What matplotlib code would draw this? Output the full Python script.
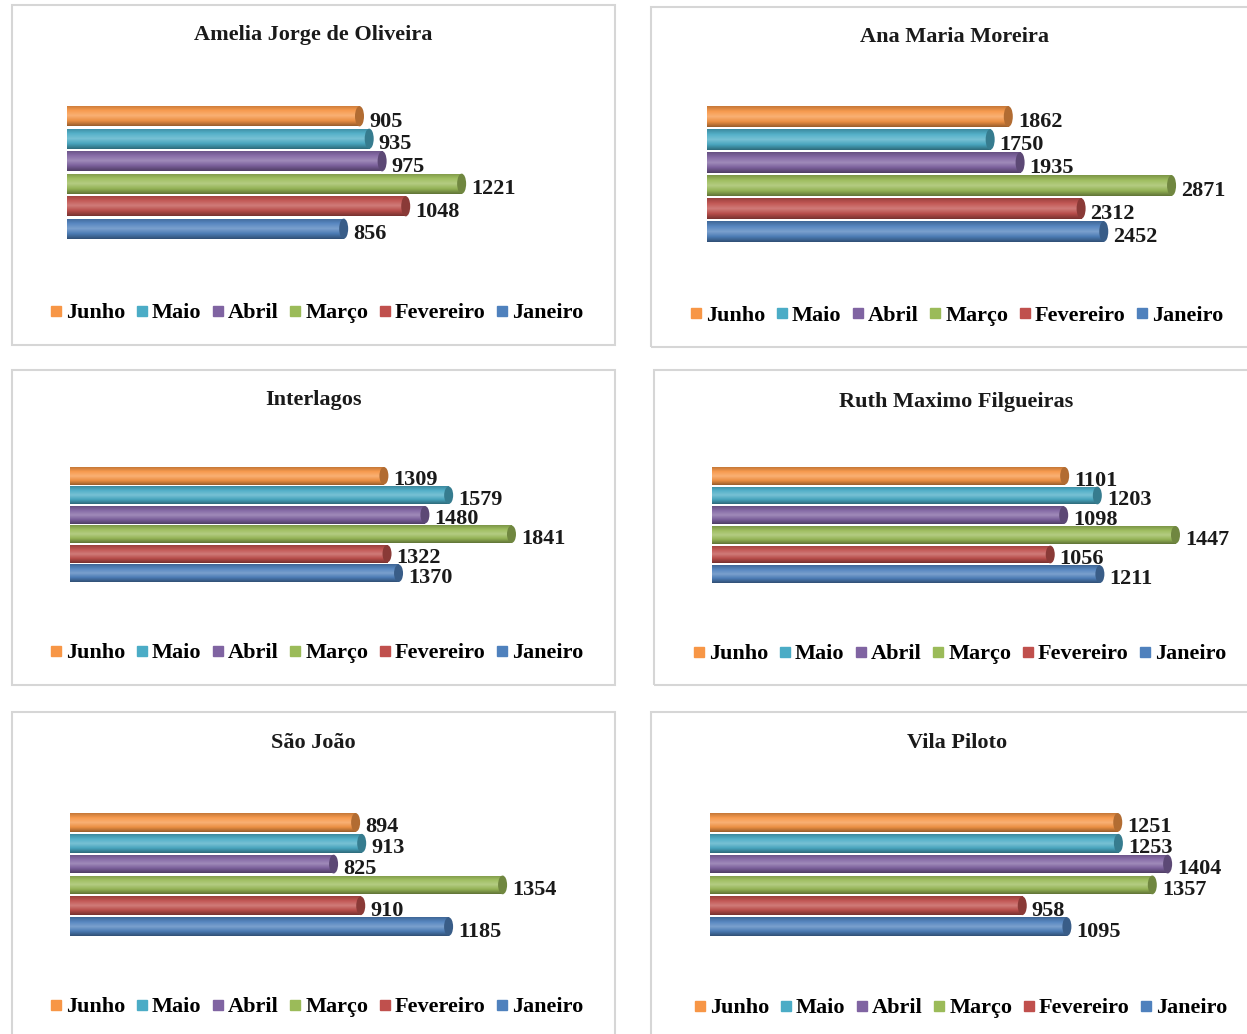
import numpy as np
import matplotlib
matplotlib.use('Agg')
import matplotlib.pyplot as plt
from matplotlib.colors import LinearSegmentedColormap, to_rgb
from matplotlib.patches import Rectangle, Ellipse
from matplotlib.lines import Line2D

months = ['Janeiro', 'Fevereiro', 'Março', 'Abril', 'Maio', 'Junho']
colors = ['#4F81BD', '#C0504D', '#9BBB59', '#8064A2', '#4BACC6', '#F79646']

titles = ['Amelia Jorge de Oliveira', 'Ana Maria Moreira', 'Interlagos',
          'Ruth Maximo Filgueiras', 'São João', 'Vila Piloto']

amelia = [856, 1048, 1221, 975, 935, 905]
ana = [2452, 2312, 2871, 1935, 1750, 1862]
interlagos = [1370, 1322, 1841, 1480, 1579, 1309]
ruth = [1211, 1056, 1447, 1098, 1203, 1101]
sao_joao = [1185, 910, 1354, 825, 913, 894]
vila = [1095, 958, 1357, 1404, 1253, 1251]
series = [amelia, ana, interlagos, ruth, sao_joao, vila]

# axis maximum of each panel (each Excel chart had its own scale)
axis_max = [1547, 3090, 2085, 1561, 1565, 1534]

W, H = 1247, 1034
fig = plt.figure(figsize=(W / 100, H / 100), dpi=100)
fig.patch.set_facecolor('white')
FONT = 'Liberation Serif'

# layout in pixels: box, title, bar area, legend
boxes = [(12, 5, 615, 345), (651, 7, 1252, 347), (12, 370, 615, 685),
         (654, 370, 1252, 685), (12, 712, 615, 1040), (651, 712, 1252, 1040)]
title_pos = [(313, 35), (954, 37), (313, 400), (956, 402), (313, 743), (957, 743)]
bar_area = [(67, 105, 240), (707, 105, 243), (70, 466, 583),
            (712, 466, 584), (70, 812, 937), (710, 812, 937)]
legend_pos = [(317, 313), (957, 316), (317, 653), (960, 654), (317, 1007), (961, 1008)]
AX_W = 500


def fx(x):
    return x / W


def fy(y):
    return 1 - y / H


def shade(c, f):
    r = np.array(to_rgb(c))
    if f < 1:
        return tuple(r * f)
    return tuple(r + (1 - r) * (f - 1))


for k in range(6):
    x0, y0, x1, y1 = boxes[k]
    fig.patches.append(Rectangle((fx(x0), fy(y1)), fx(x1 - x0), (y1 - y0) / H,
                                 transform=fig.transFigure, facecolor='none',
                                 edgecolor='#d6d6d6', lw=1.5, zorder=-1))
    tx, ty = title_pos[k]
    fig.text(fx(tx), fy(ty), titles[k], ha='center', va='center',
             fontsize=16, fontweight='bold', family=FONT, color='#1a1a1a')

    bl, bt, bb = bar_area[k]
    ax = fig.add_axes([fx(bl), fy(bb), AX_W / W, (bb - bt) / H])
    ax.set_facecolor('none')
    ax.axis('off')
    vals = series[k]
    xm = axis_max[k]
    h = 0.9
    px = xm / AX_W
    cap_w = 9 * px
    bars = ax.barh(range(6), vals, height=h, color=colors, zorder=2)
    grad = np.linspace(0, 1, 64).reshape(-1, 1)
    for i, (b, v, c) in enumerate(zip(bars, vals, colors)):
        cm = LinearSegmentedColormap.from_list(
            'g', [shade(c, 0.62), shade(c, 0.95), shade(c, 1.25), shade(c, 1.05), shade(c, 0.8)])
        im = ax.imshow(grad, cmap=cm, extent=(0, v, i - h / 2, i + h / 2),
                       aspect='auto', origin='lower', zorder=3)
        im.set_clip_path(b)
        ax.add_patch(Ellipse((v, i), cap_w, h, facecolor=shade(c, 0.72),
                             edgecolor='none', zorder=4))
        ax.text(v + cap_w / 2 + 5 * px, i - 0.24, f'{v}', ha='left', va='center',
                fontsize=16, fontweight='bold', family=FONT, color='#1a1a1a', zorder=5)
    ax.set_xlim(0, xm)
    ax.set_ylim(-0.5, 5.5)

    handles = [Line2D([], [], marker='s', linestyle='', color=colors[j], markersize=7)
               for j in range(5, -1, -1)]
    labels = [months[j] for j in range(5, -1, -1)]
    lx, ly = legend_pos[k]
    fig.legend(handles, labels, loc='center', bbox_to_anchor=(fx(lx), fy(ly)),
               ncol=6, frameon=False, handlelength=0.5, handletextpad=0.2,
               columnspacing=0.5, borderpad=0,
               prop={'family': FONT, 'weight': 'bold', 'size': 16})

fig.savefig('out.png', dpi=100, facecolor='white')
